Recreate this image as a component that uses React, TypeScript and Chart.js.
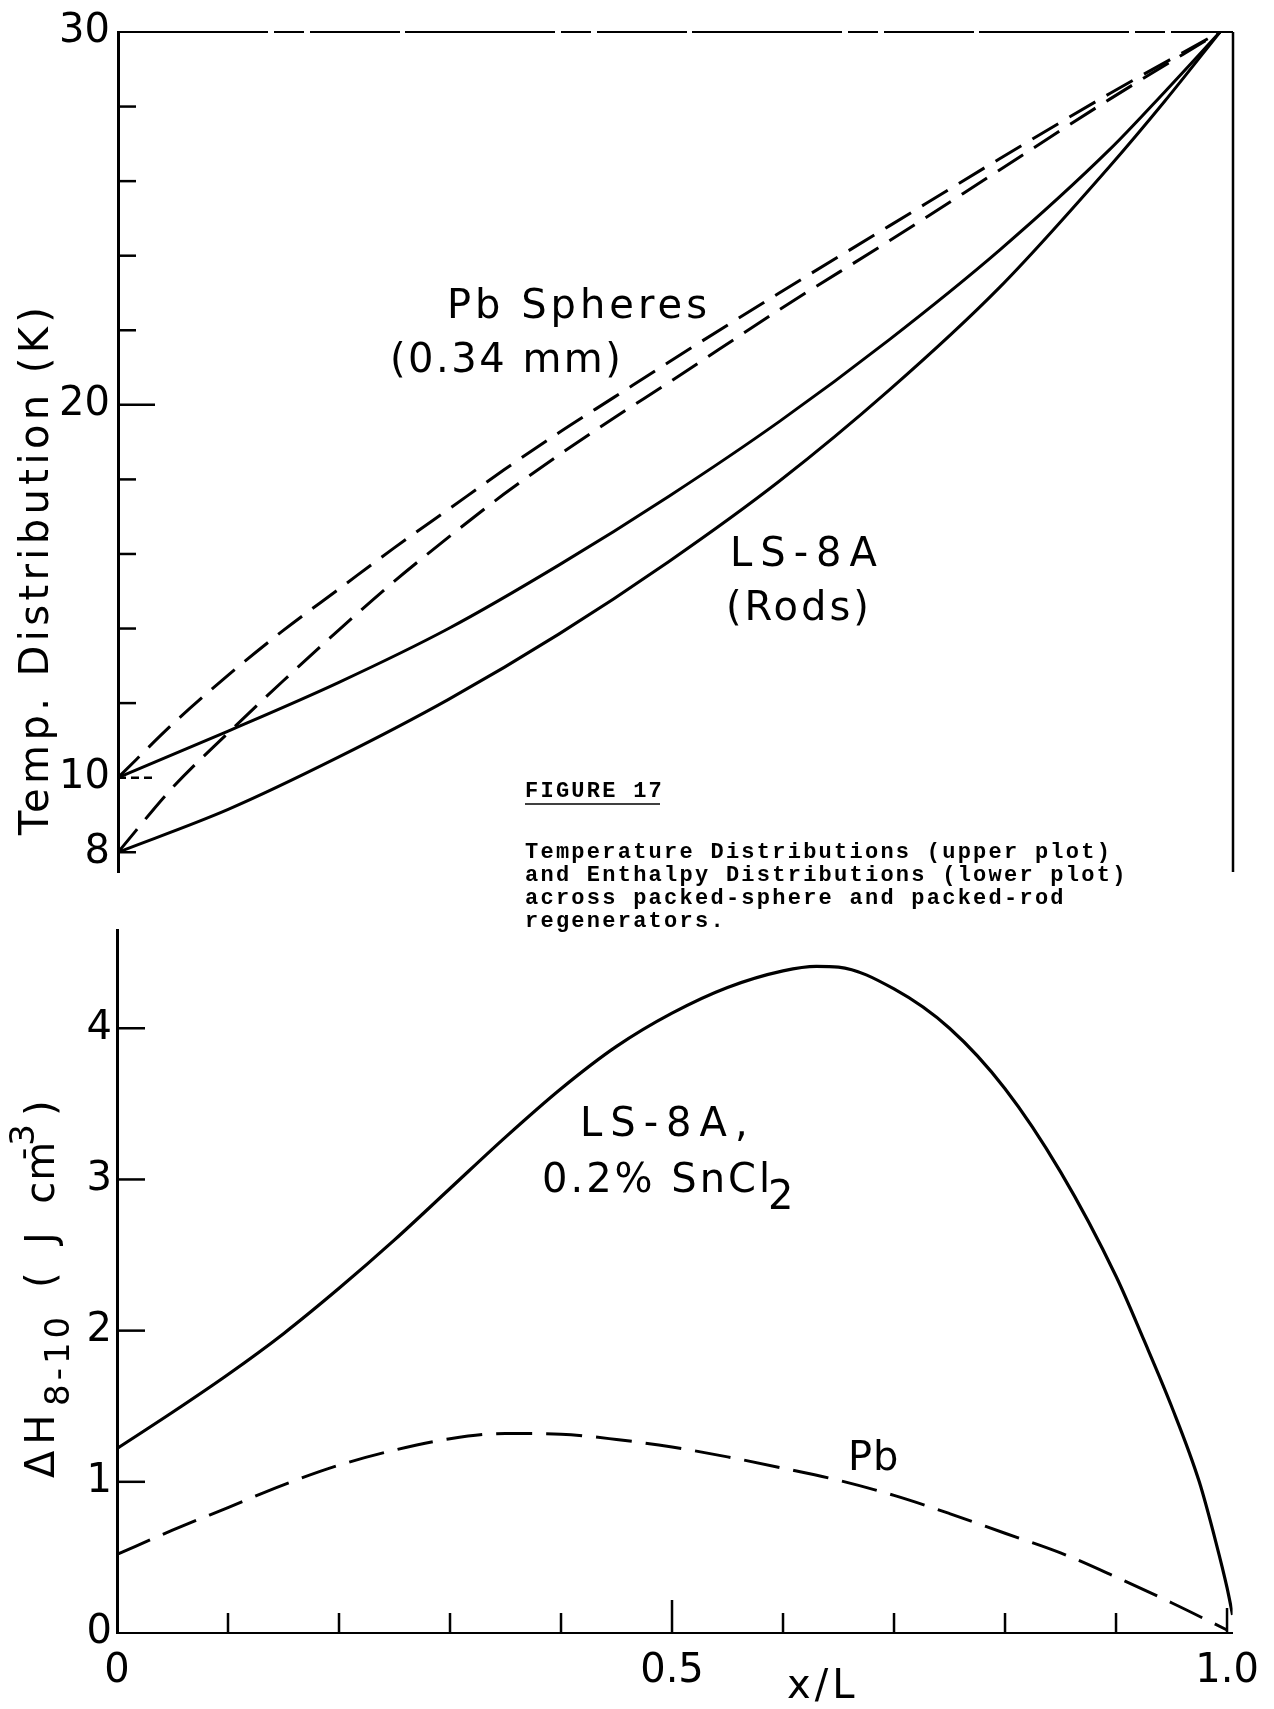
import React, { useEffect, useRef } from 'react';
import { Chart, registerables } from 'chart.js';

Chart.register(...registerables);

// ---------- Upper plot: temperature distribution (K) vs x/L ----------
const lsUpperX = [0, 0.1, 0.2, 0.3, 0.4, 0.5, 0.6, 0.7, 0.8, 0.9, 0.95, 1.0];
const lsUpperT = [10.0, 11.25, 12.55, 14.0, 15.7, 17.55, 19.55, 21.75, 24.15, 26.85, 28.4, 30.0];

const lsLowerX = [0, 0.1, 0.2, 0.3, 0.4, 0.5, 0.6, 0.7, 0.8, 0.9, 0.95, 1.0];
const lsLowerT = [8.0, 9.15, 10.55, 12.1, 13.85, 15.8, 17.95, 20.4, 23.15, 26.4, 28.15, 30.0];

const pbUpperX = [0, 0.05, 0.1, 0.15, 0.2, 0.25, 0.3, 0.35, 0.4, 0.45, 0.5, 0.6, 0.7, 0.8, 0.9, 1.0];
const pbUpperT = [10.0, 11.45, 12.75, 13.95, 15.05, 16.15, 17.2, 18.25, 19.25, 20.2, 21.15, 23.0, 24.8, 26.6, 28.35, 30.0];

const pbLowerX = [0, 0.05, 0.1, 0.15, 0.2, 0.25, 0.3, 0.35, 0.4, 0.45, 0.5, 0.6, 0.7, 0.8, 0.9, 1.0];
const pbLowerT = [8.0, 9.75, 11.2, 12.6, 13.95, 15.25, 16.45, 17.6, 18.65, 19.65, 20.6, 22.55, 24.4, 26.3, 28.2, 30.0];

const topYTicks = [8, 10, 12, 14, 16, 18, 20, 22, 24, 26, 28, 30];
const topYLabels = [8, 10, 20, 30];

// ---------- Lower plot: enthalpy distribution ΔH(8-10) (J cm^-3) vs x/L ----------
const lsEnthX = [0, 0.05, 0.1, 0.15, 0.2, 0.25, 0.3, 0.35, 0.4, 0.45, 0.5, 0.55, 0.6, 0.63, 0.65, 0.7, 0.75, 0.8, 0.85, 0.9, 0.925, 0.95, 0.975, 0.99, 1.0, 1.005];
const lsEnthH = [1.22, 1.46, 1.71, 1.98, 2.28, 2.6, 2.94, 3.28, 3.6, 3.88, 4.1, 4.27, 4.38, 4.41, 4.405, 4.26, 4.0, 3.6, 3.05, 2.36, 1.94, 1.5, 1.0, 0.6, 0.3, 0.12];

const pbEnthX = [0, 0.05, 0.1, 0.15, 0.2, 0.25, 0.3, 0.35, 0.4, 0.45, 0.5, 0.55, 0.6, 0.65, 0.7, 0.75, 0.8, 0.85, 0.9, 0.95, 1.0];
const pbEnthH = [0.52, 0.68, 0.83, 0.98, 1.11, 1.21, 1.285, 1.32, 1.315, 1.28, 1.23, 1.165, 1.09, 1.01, 0.91, 0.79, 0.66, 0.53, 0.37, 0.2, 0.02];

const botYTicks = [0, 1, 2, 3, 4];
const botXTicks = [0, 0.5, 1.0];
const botXMinor = [0.1, 0.2, 0.3, 0.4, 0.5, 0.6, 0.7, 0.8, 0.9, 1.0];

const FONT = 'DejaVu Sans';
const MONO = 'Liberation Mono';

const pts = (xs: number[], ys: number[]) => xs.map((x, i) => ({ x, y: ys[i] }));

function txt(ctx: CanvasRenderingContext2D, text: string, x: number, y: number, size: number, spacing = 0, family = FONT, weight = 'normal') {
  ctx.save();
  ctx.font = `${weight} ${size}px "${family}"`;
  (ctx as any).letterSpacing = `${spacing}px`;
  ctx.fillStyle = '#000';
  ctx.textAlign = 'left';
  ctx.textBaseline = 'alphabetic';
  ctx.fillText(text, x, y);
  ctx.restore();
}

function line(ctx: CanvasRenderingContext2D, x1: number, y1: number, x2: number, y2: number, w: number, dash: number[] = []) {
  ctx.save();
  ctx.strokeStyle = '#000';
  ctx.lineWidth = w;
  ctx.setLineDash(dash);
  ctx.beginPath();
  ctx.moveTo(x1, y1);
  ctx.lineTo(x2, y2);
  ctx.stroke();
  ctx.restore();
}

const topDecor = {
  id: 'topDecor',
  afterDraw(chart: any) {
    const ctx: CanvasRenderingContext2D = chart.ctx;
    const { left, right, top, bottom } = chart.chartArea;
    const ys = chart.scales.y;
    // frame: top (scan-broken) and right border
    line(ctx, left, top, right, top, 2, [150, 6, 30, 6, 90, 5]);
    line(ctx, right, top, right, bottom, 2.5);
    // inward tick marks
    for (const v of topYTicks) {
      if (v === 30) continue;
      const py = ys.getPixelForValue(v);
      if (v === 20) line(ctx, left, py, left + 37, py, 2.5);
      else if (v === 10) line(ctx, left, py, left + 36, py, 2.5, [8, 5]);
      else line(ctx, left, py, left + 18, py, 2.5);
    }
    // axis title
    ctx.save();
    ctx.translate(48, 835);
    ctx.rotate(-Math.PI / 2);
    txt(ctx, 'Temp. Distribution (K)', 0, 0, 40, 4.4);
    ctx.restore();
    // curve annotations
    txt(ctx, 'Pb Spheres', 447, 318, 40, 4);
    txt(ctx, '(0.34 mm)', 390, 372, 40, 2.5);
    txt(ctx, 'LS-8A', 730, 566, 40, 8);
    txt(ctx, '(Rods)', 726, 620, 40, 3);
    // figure caption
    txt(ctx, 'FIGURE 17', 525, 797, 22, 2.25, MONO, 'bold');
    line(ctx, 525, 804, 660, 804, 1.6);
    const cap = [
      'Temperature Distributions (upper plot)',
      'and Enthalpy Distributions (lower plot)',
      'across packed-sphere and packed-rod',
      'regenerators.',
    ];
    cap.forEach((s, i) => txt(ctx, s, 525, 858 + i * 23, 22, 2.25, MONO, 'bold'));
  },
};

const botDecor = {
  id: 'botDecor',
  afterDraw(chart: any) {
    const ctx: CanvasRenderingContext2D = chart.ctx;
    const { left, bottom } = chart.chartArea;
    const ys = chart.scales.y;
    const xs = chart.scales.x;
    for (const v of botYTicks) {
      if (v === 0) continue;
      const py = ys.getPixelForValue(v);
      line(ctx, left, py, left + 28, py, 2.5);
    }
    for (const v of botXMinor) {
      const px = xs.getPixelForValue(v);
      const len = Math.abs(v - 0.5) < 1e-6 ? 33 : Math.abs(v - 1) < 1e-6 ? 25 : 20;
      line(ctx, px, bottom, px, bottom - len, 2.5);
    }
    // axis title: ΔH_{8-10} ( J cm^-3 )
    ctx.save();
    ctx.translate(54, 578);
    ctx.rotate(-Math.PI / 2);
    txt(ctx, 'ΔH', 0, 0, 40, 6);
    txt(ctx, '8-10', 72, 15, 34, 4);
    txt(ctx, '(  J  cm', 190, 0, 40, 1);
    txt(ctx, '-3', 318, -20, 34, 2);
    txt(ctx, ')', 362, 0, 40, 0);
    ctx.restore();
    // annotations
    txt(ctx, 'LS-8A,', 580, 236, 40, 8);
    txt(ctx, '0.2% SnCl', 542, 292, 40, 3);
    txt(ctx, '2', 768, 309, 40, 0);
    txt(ctx, 'Pb', 848, 570, 40, 1);
    txt(ctx, 'x/L', 787, 798, 40, 4);
  },
};

function topConfig(): any {
  return {
    type: 'line',
    data: {
      datasets: [
        { data: pts(pbUpperX, pbUpperT), borderDash: [30, 13] },
        { data: pts(pbLowerX, pbLowerT), borderDash: [30, 13] },
        { data: pts(lsUpperX, lsUpperT) },
        { data: pts(lsLowerX, lsLowerT) },
      ].map((d) => ({
        ...d,
        borderColor: '#000',
        borderWidth: 3,
        pointRadius: 0,
        fill: false,
        cubicInterpolationMode: 'monotone',
      })),
    },
    options: {
      animation: false,
      responsive: false,
      maintainAspectRatio: false,
      events: [],
      layout: { padding: { left: 0, right: 41, top: 23.5, bottom: 68 } },
      plugins: { legend: { display: false }, tooltip: { enabled: false }, title: { display: false } },
      scales: {
        x: { type: 'linear', min: 0, max: 1.0118, display: false },
        y: {
          type: 'linear',
          min: 7.47,
          max: 30,
          afterBuildTicks: (s: any) => {
            s.ticks = topYTicks.map((v) => ({ value: v }));
          },
          afterFit: (s: any) => {
            s.width = 118;
          },
          grid: { display: false, drawTicks: false },
          border: { display: true, width: 3, color: '#000' },
          ticks: {
            autoSkip: false,
            padding: 8,
            color: '#000',
            font: { family: FONT, size: 40 },
            callback: (v: any) => (topYLabels.includes(Number(v)) ? String(v) : ''),
          },
        },
      },
    },
    plugins: [topDecor],
  };
}

function botConfig(): any {
  return {
    type: 'line',
    data: {
      datasets: [
        { data: pts(lsEnthX, lsEnthH), borderWidth: 3.2 },
        { data: pts(pbEnthX, pbEnthH), borderWidth: 3, borderDash: [36, 14] },
      ].map((d) => ({
        ...d,
        borderColor: '#000',
        pointRadius: 0,
        fill: false,
        cubicInterpolationMode: 'monotone',
      })),
    },
    options: {
      animation: false,
      responsive: false,
      maintainAspectRatio: false,
      events: [],
      layout: { padding: { left: 0, right: 33.4, top: 30, bottom: 0 } },
      plugins: { legend: { display: false }, tooltip: { enabled: false }, title: { display: false } },
      scales: {
        x: {
          type: 'linear',
          min: 0,
          max: 1.005,
          afterBuildTicks: (s: any) => {
            s.ticks = botXTicks.map((v) => ({ value: v }));
          },
          afterFit: (s: any) => {
            s.height = 76;
          },
          grid: { display: false, drawTicks: false },
          border: { display: true, width: 2, color: '#000', dash: [26, 6, 6, 6] },
          ticks: {
            autoSkip: false,
            maxRotation: 0,
            padding: 15,
            color: '#000',
            font: { family: FONT, size: 40 },
            callback: (v: any) => (Number(v) === 1 ? '1.0' : String(v)),
          },
        },
        y: {
          type: 'linear',
          min: 0,
          max: 4.65,
          afterBuildTicks: (s: any) => {
            s.ticks = botYTicks.map((v) => ({ value: v }));
          },
          afterFit: (s: any) => {
            s.width = 117;
          },
          grid: { display: false, drawTicks: false },
          border: { display: true, width: 3, color: '#000' },
          ticks: {
            autoSkip: false,
            padding: 5,
            color: '#000',
            font: { family: FONT, size: 40 },
            callback: (v: any) => String(v),
          },
        },
      },
    },
    plugins: [botDecor],
  };
}

export default function App() {
  const topRef = useRef<HTMLCanvasElement>(null);
  const botRef = useRef<HTMLCanvasElement>(null);

  useEffect(() => {
    const c1 = new Chart(topRef.current as HTMLCanvasElement, topConfig());
    const c2 = new Chart(botRef.current as HTMLCanvasElement, botConfig());
    return () => {
      c1.destroy();
      c2.destroy();
    };
  }, []);

  return (
    <div style={{ position: 'absolute', left: 0, top: 0, width: 1274, height: 1709, background: '#fff', overflow: 'hidden' }}>
      <canvas ref={topRef} width={1274} height={940} style={{ position: 'absolute', left: 0, top: 0, width: 1274, height: 940 }} />
      <canvas ref={botRef} width={1274} height={809} style={{ position: 'absolute', left: 0, top: 900, width: 1274, height: 809 }} />
    </div>
  );
}
